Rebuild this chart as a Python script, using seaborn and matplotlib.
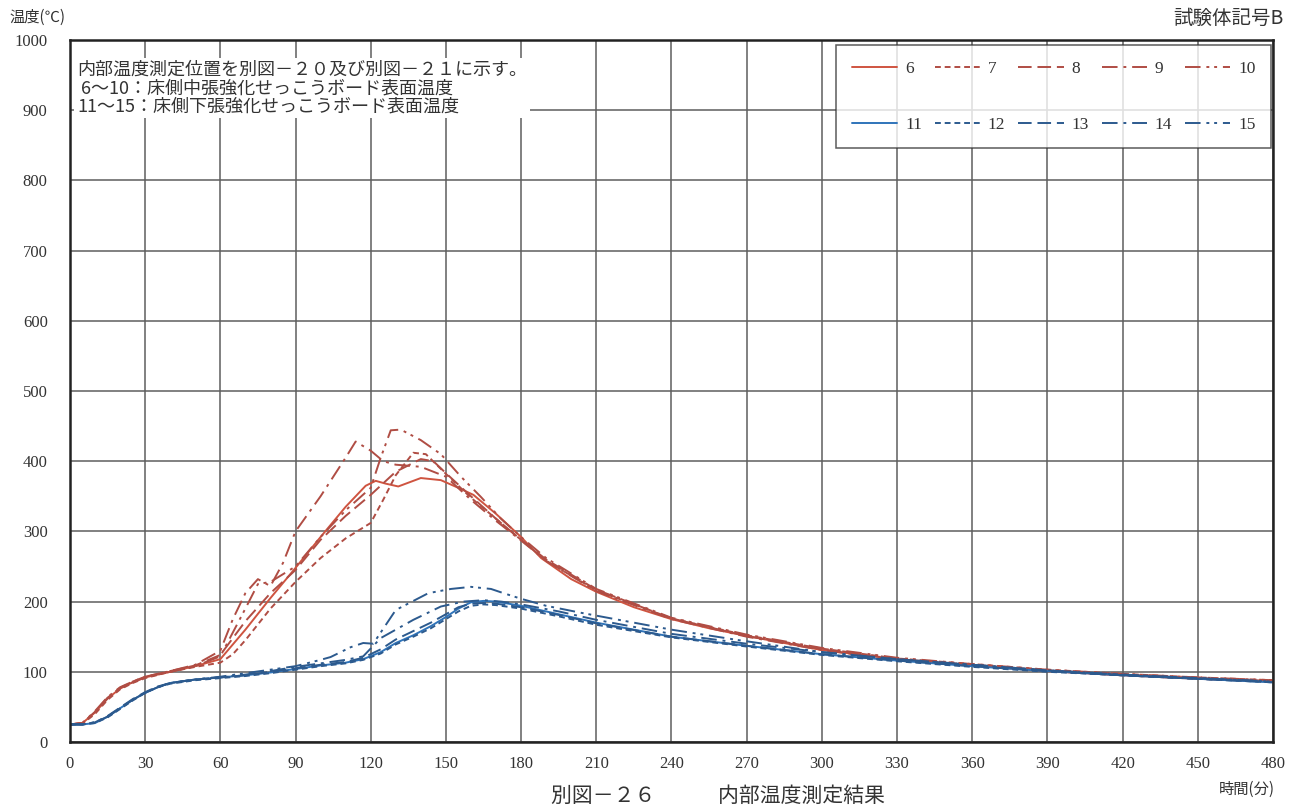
import matplotlib
matplotlib.use("Agg")
import matplotlib.pyplot as plt
import seaborn as sns
import pandas as pd

# ---------------- data ----------------
t6 = [0,5,10,15,20,25,30,40,50,60,70,80,90,100,110,118,122,126,131,140,148,155,161,170,180,188,200,210,225,240,255,270,300,330,360,390,420,450,480]
v6 = [25,27,42,62,76,85,92,100,108,118,160,205,248,292,335,365,372,368,364,376,373,362,352,325,292,262,232,214,192,175,162,151,131,118,109,101,95,90,86]

t7 = [0,5,10,15,20,25,30,40,50,60,65,70,80,90,100,110,120,125,130,137,142,150,160,170,180,190,210,240,270,300,330,360,390,420,450,480]
v7 = [25,26,40,60,75,84,91,100,107,113,125,145,190,228,262,290,312,345,380,412,410,382,348,318,288,258,216,176,152,133,119,111,103,97,92,88]

t8 = [0,5,10,15,20,25,30,40,50,60,70,80,90,100,110,120,130,140,145,150,160,170,180,190,210,240,270,300,330,360,390,420,450,480]
v8 = [25,27,43,63,77,86,93,101,109,124,172,212,245,288,322,352,385,403,400,383,350,318,288,260,217,176,151,132,118,110,102,96,91,87]

t9 = [0,5,10,15,20,25,30,40,50,60,65,70,75,80,85,90,100,110,114,120,125,130,140,150,160,170,180,190,210,240,270,300,330,360,390,420,450,480]
v9 = [25,27,44,64,78,86,93,101,110,130,175,212,232,222,255,300,350,405,428,415,400,395,392,378,345,315,287,258,215,175,150,131,117,109,101,95,90,86]

t10 = [0,5,10,15,20,25,30,40,50,60,70,75,80,90,100,110,120,124,128,132,140,148,156,164,172,180,190,210,240,270,300,330,360,390,420,450,480]
v10 = [25,27,42,62,76,85,92,100,108,122,190,225,228,250,292,330,362,405,444,445,430,410,378,349,318,292,262,218,177,153,134,120,111,103,97,92,88]

t11 = [0,5,10,15,20,25,30,35,40,50,60,70,80,90,100,110,117,124,130,137,144,150,155,160,165,170,180,195,210,240,270,300,330,360,390,420,450,480]
v11 = [25,25,27,36,48,60,70,78,84,89,92,95,99,104,109,113,118,128,141,152,165,178,190,199,201,200,194,182,170,150,137,125,116,108,101,95,90,85]
t12 = t11
v12 = [25,25,27,35,47,59,70,78,83,88,91,94,98,103,108,112,117,126,139,150,162,175,186,194,196,195,190,179,167,149,136,124,115,107,100,95,90,85]
t13 = t11
v13 = [25,25,28,37,49,61,71,79,84,89,92,95,100,105,110,114,120,132,146,158,170,182,192,197,198,197,192,181,169,150,137,125,116,108,101,95,90,85]

t14 = [0,5,10,15,20,25,30,35,40,50,60,70,80,90,100,110,117,124,130,137,148,157,165,172,180,195,210,240,270,300,330,360,390,420,450,480]
v14 = [25,25,28,36,48,60,70,78,84,89,92,96,101,107,112,117,122,148,160,174,193,200,202,200,196,186,174,154,140,128,118,110,102,96,91,86]

t15 = [0,5,10,15,20,25,30,35,40,50,60,70,80,90,100,104,112,117,121,130,143,152,160,168,173,180,190,204,210,240,267,300,330,360,390,420,450,480]
v15 = [25,25,28,36,48,60,70,78,84,89,93,98,103,108,117,121,135,141,140,188,212,218,221,218,212,204,194,184,180,160,145,128,118,110,102,96,91,86]

channels = ["6","7","8","9","10","11","12","13","14","15"]
times = [t6,t7,t8,t9,t10,t11,t12,t13,t14,t15]
temps = [v6,v7,v8,v9,v10,v11,v12,v13,v14,v15]

x_ticks = [0,30,60,90,120,150,180,210,240,270,300,330,360,390,420,450,480]
y_ticks = [0,100,200,300,400,500,600,700,800,900,1000]

# ---------------- build frame ----------------
rows = []
for ch, ts, vs in zip(channels, times, temps):
    for t, v in zip(ts, vs):
        rows.append({"t": t, "T": v, "ch": ch})
df = pd.DataFrame(rows)

red = "#cf5440"
red_d = "#b04d44"
blue = "#2f74ba"
blue_d = "#2c5a8e"
palette = {"6": red, "7": red_d, "8": red_d, "9": red_d, "10": red_d,
           "11": blue, "12": blue_d, "13": blue_d, "14": blue_d, "15": blue_d}
pat = ["", (3, 2), (7, 3), (8, 3, 1.5, 3), (8, 3, 1.5, 2.5, 1.5, 3)]
dashes = {ch: pat[i % 5] for i, ch in enumerate(channels)}

sns.set_theme(style="white")
plt.rcParams["font.family"] = ["Liberation Serif", "Noto Sans CJK JP", "DejaVu Sans"]

fig = plt.figure(figsize=(13, 8.08), dpi=100)
ax = fig.add_axes([0.0538, 0.0817, 0.9254, 0.8688])

sns.lineplot(data=df, x="t", y="T", hue="ch", style="ch", hue_order=channels,
             style_order=channels, palette=palette, dashes=dashes,
             linewidth=1.4, ax=ax, legend=True, sort=False)

ax.set_xlim(0, 480)
ax.set_ylim(0, 1000)
ax.set_xticks(x_ticks)
ax.set_yticks(y_ticks)
ax.set_xticklabels([str(x) for x in x_ticks], fontsize=12, color="#333333")
ax.set_yticklabels([str(y) for y in y_ticks], fontsize=12, color="#333333")
ax.tick_params(axis="y", length=0, pad=16)
ax.tick_params(axis="x", length=0, pad=10)
ax.set_xlabel("")
ax.set_ylabel("")
ax.grid(True, color="#5e5e5e", linewidth=1.1)
ax.set_axisbelow(True)
for s in ax.spines.values():
    s.set_color("#222222")
    s.set_linewidth(1.8)
    s.set_visible(True)

# legend: row 1 -> 6..10, row 2 -> 11..15
handles, labels = ax.get_legend_handles_labels()
hmap = dict(zip(labels, handles))
order = ["6","11","7","12","8","13","9","14","10","15"]
leg = ax.legend([hmap[k] for k in order], order, ncol=5, loc="upper right",
                bbox_to_anchor=(0.9985, 0.993),
                frameon=True, fancybox=False, edgecolor="#333333",
                handlelength=2.6, handletextpad=0.45, labelspacing=2.3,
                columnspacing=0.75, borderpad=0.9, borderaxespad=0.0,
                fontsize=12.5)
leg.get_frame().set_linewidth(1.1)
for txt in leg.get_texts():
    txt.set_color("#333333")

jp = ["Noto Sans CJK JP", "DejaVu Sans"]
note = ("内部温度測定位置を別図－２０及び別図－２１に示す。\n"
        " 6～10：床側中張強化せっこうボード表面温度\n"
        "11～15：床側下張強化せっこうボード表面温度")
ax.text(0.006, 0.970, note, transform=ax.transAxes, family=jp, fontsize=13,
        va="top", ha="left", linespacing=1.0, color="#333333",
        bbox=dict(facecolor="white", edgecolor="none", pad=2))

fig.text(0.007, 0.978, "温度(℃)", family=jp, fontsize=11, color="#333333",
         ha="left", va="center")
fig.text(0.987, 0.977, "試験体記号B", family=jp, fontsize=14, color="#333333",
         ha="right", va="center")
fig.text(0.981, 0.023, "時間(分)", family=jp, fontsize=11, color="#333333",
         ha="right", va="center")
fig.text(0.552, 0.015, "別図－２６　　　内部温度測定結果", family=jp, fontsize=15,
         color="#333333", ha="center", va="center")

fig.savefig("out.png", dpi=100, facecolor="white")
